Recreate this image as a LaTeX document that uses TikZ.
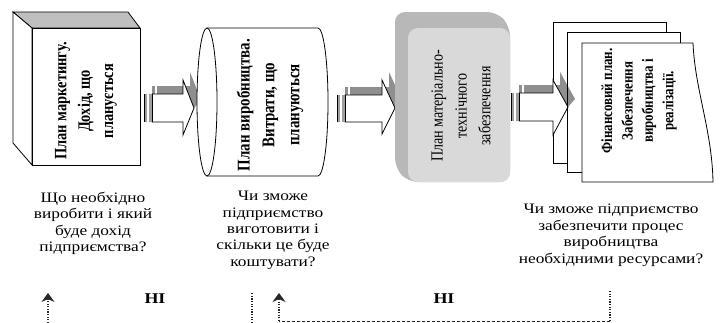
\documentclass[tikz,border=0pt]{standalone}
\usepackage{fontspec}
\setmainfont{Liberation Serif}
\newfontfamily\hfont{Liberation Serif}[FakeStretch=1.2]
\newfontfamily\vfont{Liberation Serif}[FakeStretch=0.833]
\usetikzlibrary{arrows.meta}
\definecolor{shadowgray}{HTML}{8F8F8F}
\definecolor{topgray}{HTML}{BFBFBF}
\definecolor{bevelgray}{HTML}{B8B8B8}
\definecolor{facegray}{HTML}{D9D9D9}
% block arrow: #1 x0, #2 xh, #3 xt, #4 yt, #5 yb, #6 ht, #7 hb, #8 ym
\newcommand\blockarr[8]{%
  \fill[shadowgray] (#1+8,#4) -- (#1+8,#4-8) -- (#2+7,#4-8) -- (#2+7,#6-8) -- (#3+7,#8-8) -- (#3,#8) -- (#2,#6) -- (#2,#4) -- cycle;
  \fill[white] (#1+11,#4-8) rectangle (#1+12.5,#4);
  \filldraw[fill=white, line width=0.8bp] (#1+8,#4) -- (#2,#4) -- (#2,#6) -- (#3,#8) -- (#2,#7) -- (#2,#5) -- (#1+8,#5) -- cycle;
  \fill[gray!75] (#1,#4) rectangle (#1+8,#5);
  \fill[white] (#1+3.2,#4) rectangle (#1+5.2,#5);
  \draw[line width=0.7bp] (#1,#4) -- (#1,#5);
  \draw[line width=0.7bp] (#1+8,#4) -- (#1+8,#5);
}
\begin{document}
\begin{tikzpicture}[x=1bp,y=-1bp,
  qtext/.style={font=\hfont\fontsize{14.5}{16.5}\selectfont, align=center, anchor=north, inner sep=0pt},
  vtext/.style={rotate=90, align=center, inner sep=0pt},
  notext/.style={font=\hfont\bfseries\fontsize{15}{18}\selectfont, inner sep=0pt},
  dotline/.style={line width=1.7bp, dash pattern=on 1.2bp off 1.4bp, black!85},
  dashline/.style={line width=0.8bp, dash pattern=on 3bp off 2bp, black!85},
  uptip/.style={-{Stealth[length=9bp,width=13bp,inset=3bp]}},
  outline/.style={line width=0.8bp}
]
\useasboundingbox (0,0) rectangle (720,322);

% arrows (drawn below the boxes)
\blockarr{144}{183}{194}{94}{122}{80}{135}{108}
\blockarr{337}{382}{395}{95}{122}{80}{134}{108}

% box 1: 3D box
\filldraw[outline, fill=topgray] (13,12) -- (128,12) -- (140,28) -- (32,28) -- cycle;
\filldraw[outline, fill=white] (13,12) -- (32,28) -- (32,165) -- (13,143) -- cycle;
\filldraw[outline, fill=white] (32,28) rectangle (140,165);

% box 2: cylinder
\filldraw[outline, fill=white] (207,28) -- (318,28) arc[start angle=-90, end angle=90, x radius=10, y radius=74] -- (207,176) -- cycle;
\filldraw[outline, fill=white] (207,102) ellipse[x radius=10, y radius=74];

% box 3: bevelled rounded box
\fill[bevelgray, rounded corners=10bp] (395,12) -- (497,12) -- (510,26) -- (510,182) -- (408,182) -- (395,168) -- cycle;
\fill[facegray, rounded corners=10bp] (408,28) rectangle (510,182);

% box 4: stack of documents
\filldraw[outline, fill=white] (553,22) rectangle (666,163);
\filldraw[outline, fill=white] (567,32) rectangle (680,172);
\filldraw[outline, fill=white] (582,43) -- (693,43) .. controls (695,90) and (712,130) .. (713,182) -- (582,182) -- cycle;

\blockarr{511}{553}{568}{93}{121}{80}{135}{107}
\draw[outline] (567,32) -- (567,172);

% texts inside the boxes
\node[vtext, font=\vfont\bfseries\fontsize{17.4}{23.5}\selectfont] (t1) at (86,101) {План маркетингу.\\Дохід, що\\планується};
\node[vtext, font=\vfont\bfseries\fontsize{18}{25}\selectfont] (t2) at (270,105) {План виробництва.\\Витрати, що\\плануються};
\node[vtext, font=\vfont\fontsize{17}{24}\selectfont] (t3) at (461,106) {План матеріально-\\технічного\\забезпечення};
\node[vtext, font=\vfont\bfseries\fontsize{15.6}{20.5}\selectfont] (t4) at (639,101) {Фінансовий план.\\Забезпечення\\виробництва і\\реалізації.};

% questions
\node[qtext] (q1) at (93,192) {Що необхідно\\виробити і який\\буде дохід\\підприємства?};
\node[qtext] (q2) at (273,191) {Чи зможе\\підприємство\\виготовити і\\скільки це буде\\коштувати?};
\node[qtext] (q3) at (611,204) {Чи зможе підприємство\\забезпечити процес\\виробництва\\необхідними ресурсами?};

% НІ labels
\node[notext] (n1) at (155,299) {НІ};
\node[notext] (n2) at (444,299) {НІ};

% feedback lines
\coordinate (a1s) at (48,323);
\coordinate (a1e) at (48,293);
\coordinate (v2s) at (252,323);
\coordinate (v2e) at (252,293);
\coordinate (c1) at (610,291);
\coordinate (c2) at (610,321);
\coordinate (c3) at (279,321);
\coordinate (c4) at (279,293);
\draw[dotline, uptip] (a1s) -- (a1e);
\draw[dotline] (v2s) -- (v2e);
\draw[dotline] (c1) -- (c2);
\draw[dashline] (c2) -- (c3);
\draw[dotline, uptip] (c3) -- (c4);
\end{tikzpicture}
\end{document}
